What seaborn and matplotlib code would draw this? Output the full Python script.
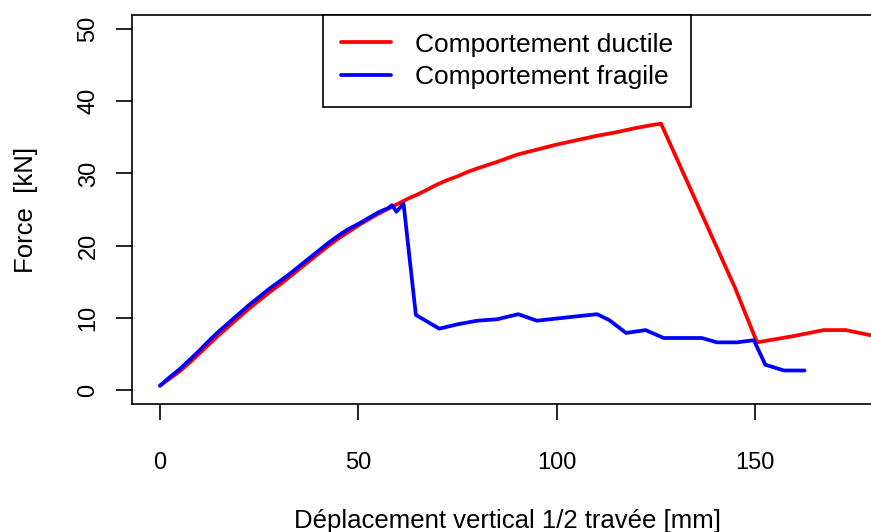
import matplotlib
matplotlib.use("Agg")
import matplotlib.pyplot as plt
import seaborn as sns
import pandas as pd

# Comportement ductile (courbe rouge)
x_ductile = [0, 2.5, 5, 7.5, 10, 12.5, 15, 17.5, 20, 22.5, 25, 27.5, 30, 32.5, 35,
             37.5, 40, 42.5, 45, 47.5, 50, 52.5, 55, 57.5, 60, 62.5, 65, 67.5, 70,
             72.5, 75, 77.5, 80, 85, 90, 95, 100, 105, 110, 115, 120, 124, 126.3,
             145, 150.5, 160, 167.3, 172.8, 179, 182]
y_ductile = [0.6, 1.6, 2.6, 3.8, 5.1, 6.4, 7.7, 8.9, 10.1, 11.3, 12.4, 13.5, 14.5, 15.6, 16.7,
             17.8, 18.9, 20.0, 21.0, 21.9, 22.8, 23.6, 24.4, 25.1, 25.8, 26.5, 27.1, 27.8, 28.5,
             29.1, 29.6, 30.2, 30.7, 31.6, 32.6, 33.3, 34.0, 34.6, 35.2, 35.7, 36.3, 36.7, 36.9,
             14.1, 6.6, 7.5, 8.3, 8.3, 7.6, 7.3]

# Comportement fragile (courbe bleue)
x_fragile = [0, 2.5, 5, 7.5, 10, 12.5, 15, 17.5, 20, 22.5, 25, 27.5, 30, 32.5, 35,
             37.5, 40, 42.5, 45, 47.5, 50, 52.5, 55, 57.5, 58.5, 59.6, 61.4, 64.5,
             70.4, 75, 80, 85, 90.3, 95, 100, 105, 110.2, 113.2, 117.5, 122.4, 127,
             136.6, 140.4, 145.5, 149.7, 152.6, 157.3, 162.5]
y_fragile = [0.6, 1.8, 2.9, 4.2, 5.5, 6.9, 8.2, 9.4, 10.6, 11.8, 12.9, 14.0, 15.0, 16.0, 17.1,
             18.2, 19.3, 20.4, 21.4, 22.3, 23.0, 23.8, 24.6, 25.2, 25.6, 24.7, 25.8, 10.4,
             8.5, 9.1, 9.6, 9.8, 10.5, 9.6, 9.9, 10.2, 10.5, 9.7, 7.9, 8.3, 7.2,
             7.2, 6.6, 6.6, 6.9, 3.5, 2.7, 2.7]

x_ticks = [0, 50, 100, 150]
y_ticks = [0, 10, 20, 30, 40, 50]

sns.set_style("white")
plt.rcParams['font.family'] = ['Liberation Sans', 'DejaVu Sans']
plt.rcParams['text.color'] = 'black'
plt.rcParams['axes.labelcolor'] = 'black'

df_d = pd.DataFrame({'x': x_ductile, 'y': y_ductile})
df_f = pd.DataFrame({'x': x_fragile, 'y': y_fragile})

fig = plt.figure(figsize=(8.71, 5.32), dpi=100)
ax = fig.add_axes([0.1518, 0.2398, 0.8608, 0.7327])

sns.lineplot(data=df_d, x='x', y='y', color='#ff0000', lw=2.7, sort=False,
             estimator=None, label='Comportement ductile', ax=ax)
sns.lineplot(data=df_f, x='x', y='y', color='#0000ff', lw=2.7, sort=False,
             estimator=None, label='Comportement fragile', ax=ax)

ax.set_xlim(-7, 182)
ax.set_ylim(-2, 52)
ax.set_xticks(x_ticks)
ax.set_yticks(y_ticks)

for s in ax.spines.values():
    s.set_visible(True)
    s.set_color('black')
    s.set_linewidth(1.2)

ax.tick_params(axis='both', direction='out', length=11.5, width=1.2, color='black',
               labelsize=17, labelcolor='black')
ax.tick_params(axis='x', pad=23, bottom=True)
ax.tick_params(axis='y', pad=12, left=True)
plt.setp(ax.get_yticklabels(), rotation=90, va='center')

ax.set_xlabel('Déplacement vertical 1/2 travée [mm]', fontsize=18.5)
ax.set_ylabel('Force  [kN]', fontsize=18.5)
ax.xaxis.set_label_coords(0.5, -0.268)
ax.yaxis.set_label_coords(-0.125, 0.5)

leg = ax.legend(loc='upper center', bbox_to_anchor=(0.5, 1.0), borderaxespad=0,
                fontsize=19, frameon=True, fancybox=False, framealpha=1,
                edgecolor='black', handlelength=1.9, handletextpad=0.9,
                borderpad=0.68, labelspacing=0.33)
leg.get_frame().set_linewidth(1.2)
for line in leg.get_lines():
    line.set_linewidth(2.7)

plt.savefig('out.png', dpi=100)
plt.close()
